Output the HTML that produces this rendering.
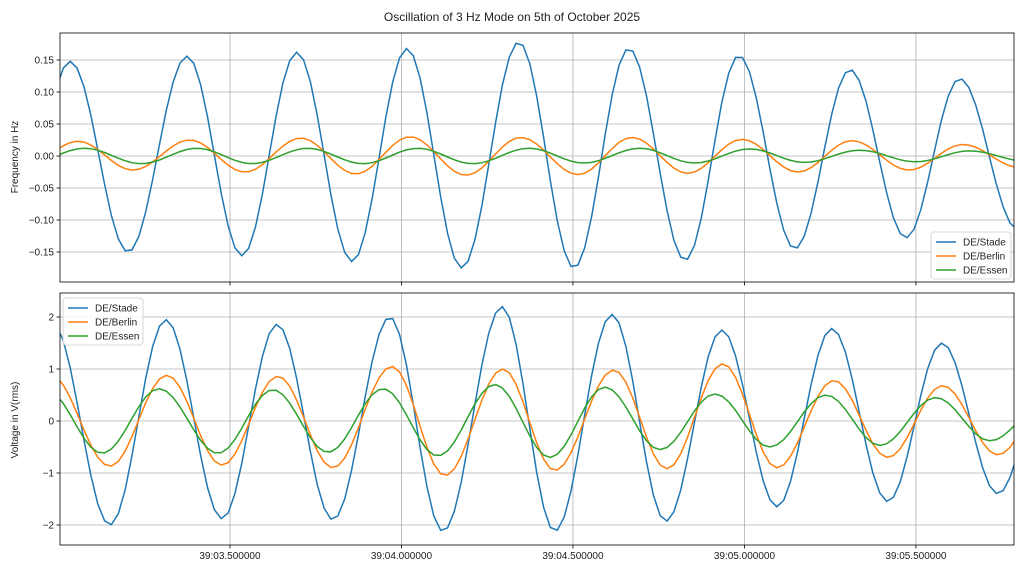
<!DOCTYPE html>
<html><head><meta charset="utf-8"><style>
body{margin:0;background:#fff;font-family:"Liberation Sans",sans-serif}
svg text{font-family:"Liberation Sans","DejaVu Sans",sans-serif;font-size:10px;fill:#222}
</style></head><body>
<svg id="fig" width="1024" height="571" xmlns="http://www.w3.org/2000/svg">
<rect width="1024" height="571" fill="#fff"/>
<text x="512" y="21" text-anchor="middle" style="font-size:12px">Oscillation of 3 Hz Mode on 5th of October 2025</text>
<text transform="translate(18,157) rotate(-90)" text-anchor="middle">Frequency in Hz</text>
<text transform="translate(18,420) rotate(-90)" text-anchor="middle">Voltage in V(rms)</text>
<g id="top"></g><g id="bot"></g>
</svg>
<script>
// time in seconds after 39:03
const xTicks=[0.5,1.0,1.5,2.0,2.5];
const xTickLabels=["39:03.500000","39:04.000000","39:04.500000","39:05.000000","39:05.500000"];
const names=["DE/Stade","DE/Berlin","DE/Essen"];
const colors=["#1f77b4","#ff7f0e","#2ca02c"];
const topTicks=[0.15,0.10,0.05,0.00,-0.05,-0.10,-0.15];
const topTickLabels=["0.15","0.10","0.05","0.00","−0.05","−0.10","−0.15"];
const botTicks=[2,1,0,-1,-2];
const botTickLabels=["2","1","0","−1","−2"];
// extremes (time, value)
const fStadeT=[-0.127,0.034,0.203,0.375,0.535,0.695,0.856,1.016,1.176,1.342,1.503,1.663,1.827,1.984,2.147,2.308,2.471,2.628,2.797];
const fStadeV=[-0.14,0.148,-0.15,0.156,-0.156,0.162,-0.165,0.168,-0.175,0.178,-0.175,0.168,-0.163,0.157,-0.145,0.135,-0.128,0.121,-0.115];
const fBerlinT=[-0.106,0.057,0.217,0.383,0.544,0.707,0.867,1.025,1.188,1.348,1.515,1.672,1.835,1.993,2.156,2.313,2.480,2.637,2.803];
const fBerlinV=[-0.02,0.023,-0.022,0.025,-0.025,0.028,-0.028,0.03,-0.03,0.029,-0.029,0.029,-0.027,0.026,-0.025,0.024,-0.022,0.018,-0.018];
const fEssenT=[-0.083,0.077,0.241,0.404,0.564,0.727,0.888,1.048,1.208,1.372,1.532,1.695,1.855,2.015,2.175,2.336,2.499,2.657,2.821];
const fEssenV=[-0.01,0.012,-0.012,0.012,-0.012,0.012,-0.012,0.012,-0.012,0.012,-0.011,0.012,-0.011,0.011,-0.01,0.009,-0.009,0.008,-0.008];
const vStadeT=[-0.019,0.150,0.313,0.477,0.637,0.800,0.966,1.121,1.293,1.447,1.614,1.771,1.934,2.095,2.255,2.418,2.576,2.739,2.899];
const vStadeV=[1.9,-2.0,1.95,-1.88,1.86,-1.9,2.0,-2.12,2.2,-2.12,2.05,-1.93,1.75,-1.65,1.78,-1.55,1.5,-1.4,1.3];
const vBerlinT=[-0.025,0.150,0.316,0.477,0.640,0.800,0.972,1.127,1.296,1.447,1.619,1.774,1.937,2.095,2.261,2.418,2.578,2.739,2.899];
const vBerlinV=[0.9,-0.87,0.88,-0.85,0.86,-0.9,1.05,-1.05,1.0,-0.95,0.98,-0.92,1.1,-0.9,0.78,-0.7,0.68,-0.65,0.6];
const vEssenT=[-0.036,0.127,0.293,0.465,0.625,0.786,0.946,1.106,1.272,1.433,1.593,1.754,1.914,2.074,2.238,2.395,2.558,2.716,2.879];
const vEssenV=[0.6,-0.62,0.62,-0.62,0.6,-0.6,0.62,-0.67,0.7,-0.7,0.65,-0.55,0.52,-0.5,0.5,-0.47,0.45,-0.38,0.35];

const NS="http://www.w3.org/2000/svg";
const X0=60,X1=1014,T0=0.0044,T1=2.786;
const xs=t=>X0+(t-T0)/(T1-T0)*(X1-X0);
function mk(tag,attrs,parent){const e=document.createElementNS(NS,tag);for(const k in attrs)e.setAttribute(k,attrs[k]);parent.appendChild(e);return e;}
function sample(T,V,t){for(let i=0;i<T.length-1;i++){if(t>=T[i]&&t<=T[i+1]){const f=(t-T[i])/(T[i+1]-T[i]);return V[i]+(V[i+1]-V[i])*(1-Math.cos(Math.PI*f))/2;}}return V[V.length-1];}
function panel(g,id,top,bottom,ymin,ymax,ticks,labels,series,legendPos){
  const ys=v=>bottom-(v-ymin)/(ymax-ymin)*(bottom-top);
  const clip=mk('clipPath',{id:'c'+id},g);mk('rect',{x:X0,y:top,width:X1-X0,height:bottom-top},clip);
  ticks.forEach((v,i)=>{const y=ys(v);
    const gl=mk('line',{x1:X0,x2:X1,y1:y,y2:y,stroke:'#b0b0b0','stroke-width':0.8},g);
    
    mk('line',{x1:X0-3.5,x2:X0,y1:y,y2:y,stroke:'#000','stroke-width':0.8},g);
    const t=mk('text',{x:X0-6,y:y+3.5,'text-anchor':'end'},g);t.textContent=labels[i];
    });
  xTicks.forEach((tv,i)=>{const x=xs(tv);
    const gl=mk('line',{x1:x,x2:x,y1:top,y2:bottom,stroke:'#b0b0b0','stroke-width':0.8},g);
    
    mk('line',{x1:x,x2:x,y1:bottom,y2:bottom+3.5,stroke:'#000','stroke-width':0.8},g);
    if(id==='b'){const t=mk('text',{x:x,y:bottom+14,'text-anchor':'middle'},g);t.textContent=xTickLabels[i];
      }});
  series.forEach((s,si)=>{let pts=[];for(let t=T0-0.03;t<=T1+0.03;t+=0.02){pts.push(xs(t).toFixed(1)+','+ys(sample(s[0],s[1],t)).toFixed(1));}
    const p=mk('polyline',{points:pts.join(' '),fill:'none',stroke:colors[si],'stroke-width':1.5,'clip-path':'url(#c'+id+')'},g);
    });
  const fr=mk('rect',{x:X0,y:top,width:X1-X0,height:bottom-top,fill:'none',stroke:'#000','stroke-width':0.8},g);
  
  const lg=mk('g',{},g);
  const [lx,ly]=legendPos;
  mk('rect',{x:lx,y:ly,width:80,height:47,rx:3,fill:'#fff','fill-opacity':0.85,stroke:'#ccc','stroke-width':0.8},lg);
  names.forEach((n,i)=>{const yy=ly+10+i*14;
    mk('line',{x1:lx+5,x2:lx+25,y1:yy,y2:yy,stroke:colors[i],'stroke-width':1.5},lg);
    const t=mk('text',{x:lx+32,y:yy+3.5},lg);t.textContent=n;
    });
}
panel(document.getElementById('top'),'t',33,282,-0.1969,0.1922,topTicks,topTickLabels,
  [[fStadeT,fStadeV],[fBerlinT,fBerlinV],[fEssenT,fEssenV]],[931,232]);
panel(document.getElementById('bot'),'b',293,545,-2.385,2.462,botTicks,botTickLabels,
  [[vStadeT,vStadeV],[vBerlinT,vBerlinV],[vEssenT,vEssenV]],[63,298]);
</script>
</body></html>
